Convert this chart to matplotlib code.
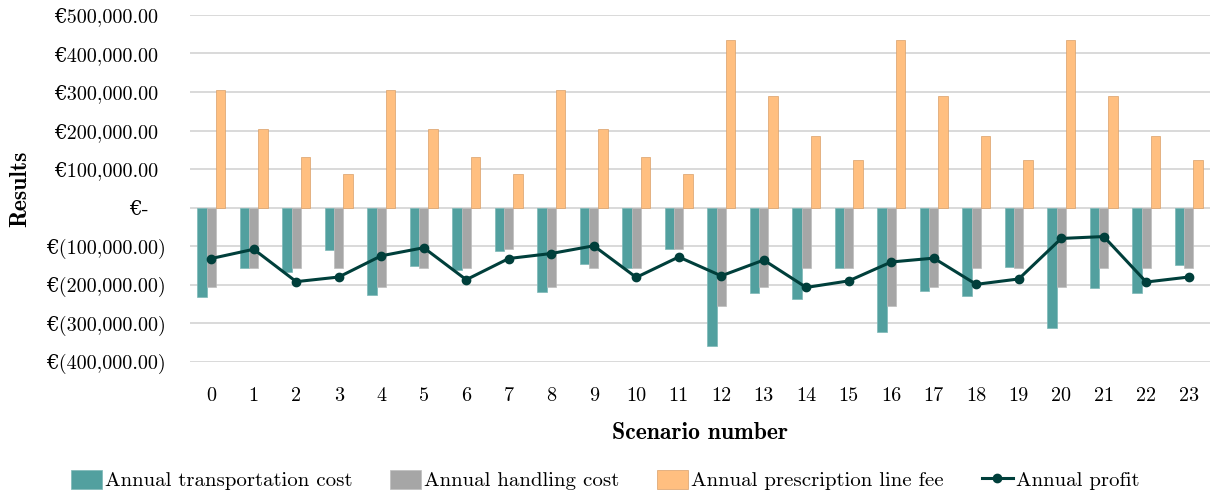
import matplotlib
matplotlib.use("Agg")
import matplotlib.pyplot as plt
from matplotlib.ticker import FixedLocator, FuncFormatter
import numpy as np

plt.rcParams['font.family'] = ['cmr10', 'DejaVu Serif']
plt.rcParams['axes.formatter.use_mathtext'] = True

scenarios = list(range(24))

# values (EUR)
transport = [-232000, -156000, -167000, -111000, -226000, -151000, -161000, -112000,
             -219000, -146000, -156000, -107000, -358000, -222000, -238000, -157000,
             -323000, -216000, -229000, -154000, -312000, -209000, -222000, -149000]
handling = [-205000, -156000, -156000, -156000, -205000, -156000, -156000, -107000,
            -205000, -156000, -156000, -107000, -254000, -205000, -156000, -156000,
            -254000, -205000, -156000, -156000, -205000, -156000, -156000, -156000]
prescription = [305000, 204000, 131000, 87500, 305000, 204000, 131000, 87500,
                305000, 204000, 131000, 87500, 435000, 289000, 185000, 123000,
                435000, 289000, 185000, 123000, 435000, 289000, 185000, 123000]
profit = [-132000, -108000, -192000, -180000, -125000, -104000, -187000, -132000,
          -119000, -99000, -181000, -128000, -177000, -136000, -207000, -190000,
          -141000, -131000, -199000, -185000, -80000, -75000, -193000, -180000]

y_ticks = [-400000, -300000, -200000, -100000, 0, 100000, 200000, 300000, 400000, 500000]


def euro_fmt(v, pos=None):
    if v == 0:
        return "€-"
    if v < 0:
        return "€({:,.2f})".format(-v)
    return "€{:,.2f}".format(v)


fig = plt.figure(figsize=(12.1, 4.95), dpi=100)
ax = fig.add_axes([0.157, 0.269, 0.843, 0.701])

x = np.arange(len(scenarios))
w = 0.22
b1 = ax.bar(x - w, transport, w, color="#52a09f", edgecolor="#7cb8b7", linewidth=0.5,
            label="Annual transportation cost", zorder=2)
b2 = ax.bar(x, handling, w, color="#a6a6a6", edgecolor="#bdbdbd", linewidth=0.5,
            label="Annual handling cost", zorder=2)
b3 = ax.bar(x + w, prescription, w, color="#ffbf80", edgecolor="#d9a06a", linewidth=0.5,
            label="Annual prescription line fee", zorder=2)
l1, = ax.plot(x, profit, color="#003f3b", lw=2.2, marker="o", markersize=6,
              label="Annual profit", zorder=3)

ax.set_xlim(-0.5, len(scenarios) - 0.5)
ax.set_ylim(-400000, 500000)
ax.yaxis.set_major_locator(FixedLocator(y_ticks))
ax.yaxis.set_major_formatter(FuncFormatter(euro_fmt))
ax.set_xticks(x)
ax.set_xticklabels([str(s) for s in scenarios])
ax.grid(axis="y", color="#d0d0d0", lw=1.1, zorder=0)
ax.set_axisbelow(True)
for sp in ax.spines.values():
    sp.set_visible(False)
ax.tick_params(axis="both", length=0, labelsize=14.5, colors="black")
ax.tick_params(axis="x", pad=18.5)

# accounting-style alignment of the y labels
for t, v in zip(ax.yaxis.get_major_ticks(len(y_ticks)), y_ticks):
    if v < 0:
        t.set_pad(17)
    elif v > 0:
        t.set_pad(23)
    else:
        t.set_pad(30)

ax.set_ylabel("Results", fontsize=17, family="cmb10", labelpad=11)
ax.set_xlabel("Scenario number", fontsize=17, family="cmb10", labelpad=12)

fig.legend([b1, b2, b3, l1],
           ["Annual transportation cost", "Annual handling cost",
            "Annual prescription line fee", "Annual profit"],
           loc="center", bbox_to_anchor=(0.5, 0.03), ncol=4, frameon=False, fontsize=15,
           handlelength=1.5, handleheight=1.0, handletextpad=0.15, columnspacing=1.8)

fig.savefig("out.png", dpi=100)
